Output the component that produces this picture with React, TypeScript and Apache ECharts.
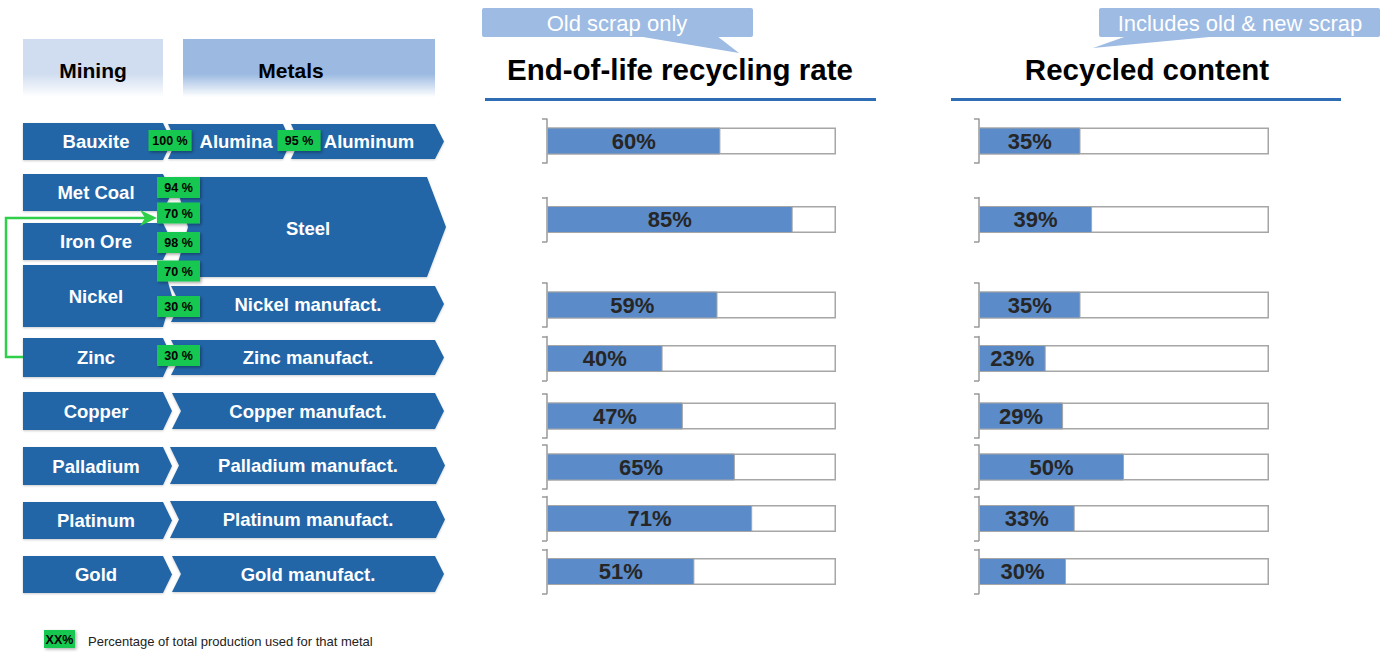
import React, { useEffect, useRef } from 'react';
import * as echarts from 'echarts';

// ---------- data ----------
const metals = ['Aluminum', 'Steel', 'Nickel', 'Zinc', 'Copper', 'Palladium', 'Platinum', 'Gold'];
const endOfLifeRate = [60, 85, 59, 40, 47, 65, 71, 51];
const recycledContent = [35, 39, 35, 23, 29, 50, 33, 30];
const miningLabels = ['Bauxite', 'Met Coal', 'Iron Ore', 'Nickel', 'Zinc', 'Copper', 'Palladium', 'Platinum', 'Gold'];
const metalLabels = [
  'Alumina', 'Aluminum', 'Steel', 'Nickel manufact.', 'Zinc manufact.',
  'Copper manufact.', 'Palladium manufact.', 'Platinum manufact.', 'Gold manufact.',
];
const usageShares = ['100 %', '95 %', '94 %', '70 %', '98 %', '70 %', '30 %', '30 %'];
const headerLabels = ['Mining', 'Metals'];
const panelTitles = ['End-of-life recycling rate', 'Recycled content'];
const panelNotes = ['Old scrap only', 'Includes old & new scrap'];
const legendSample = 'XX%';
const legendText = 'Percentage of total production used for that metal';

// ---------- layout / style ----------
const FONT = '"Liberation Sans", Arial, Helvetica, sans-serif';
const BLUE = '#2466a8';
const GREEN = '#17c84f';
const ARROW_GREEN = '#2fcf4a';
const BAR_BLUE = '#5b8bc9';
const BAR_BORDER = '#a6a6a6';
const CALLOUT = '#9dbbe3';

const rowCenters = [141, 219.5, 305, 358.5, 416, 467, 518.5, 571.5];
const panelLayout = [
  { left: 547, width: 289 },
  { left: 979, width: 290 },
];
const panelValues = [endOfLifeRate, recycledContent];

const miningRows: [number, number][] = [
  [123, 160], [174, 211], [223, 260], [265, 327], [338, 377],
  [392, 430], [447, 485], [502, 539], [556, 593],
];
const metalShapes = [
  { x0: 168, x1: 291, t: 124, b: 159, tip: 8, notch: 8, tx: 236 },
  { x0: 291, x1: 444, t: 124, b: 159, tip: 9, notch: 8, tx: 369 },
  { x0: 174, x1: 446, t: 177, b: 277, tip: 19, notch: 14, tx: 308 },
  { x0: 171, x1: 444, t: 286, b: 322, tip: 9, notch: 9, tx: 308 },
  { x0: 171, x1: 444, t: 340, b: 375, tip: 9, notch: 9, tx: 308 },
  { x0: 172, x1: 444, t: 393, b: 429, tip: 9, notch: 9, tx: 308 },
  { x0: 170, x1: 445, t: 447, b: 484, tip: 9, notch: 9, tx: 308 },
  { x0: 170, x1: 445, t: 501, b: 538, tip: 9, notch: 9, tx: 308 },
  { x0: 172, x1: 444, t: 556, b: 592, tip: 9, notch: 9, tx: 308 },
];
const badgeCenters: [number, number][] = [
  [170, 140.5], [299, 140.5], [178.5, 187.5], [178.5, 213],
  [178.5, 242.5], [178.5, 271], [178.5, 306.5], [178.5, 355.5],
];

function chevron(x0: number, x1: number, t: number, b: number, tip: number, notch: number) {
  const c = (t + b) / 2;
  return [[x0, t], [x1 - tip, t], [x1, c], [x1 - tip, b], [x0, b], [x0 + notch, c]];
}
function pentagon(x0: number, x1: number, t: number, b: number, tip: number) {
  const c = (t + b) / 2;
  return [[x0, t], [x1 - tip, t], [x1, c], [x1 - tip, b], [x0, b]];
}

function centered(text: string, x: number, y: number, extra: any) {
  return {
    type: 'text',
    x,
    y,
    style: {
      text, fontFamily: FONT,
      align: 'center', verticalAlign: 'middle', textAlign: 'center', textVerticalAlign: 'middle',
      ...extra,
    },
  };
}

function buildGraphics(): any[] {
  const els: any[] = [];
  // header boxes
  const headerBoxes = [
    { x: 23, w: 140, top: '#d0ddf0', tx: 93 },
    { x: 183, w: 252, top: '#9bb9e1', tx: 291 },
  ];
  headerBoxes.forEach((h, i) => {
    els.push({
      type: 'rect',
      shape: { x: h.x, y: 39, width: h.w, height: 58 },
      style: {
        fill: new echarts.graphic.LinearGradient(0, 0, 0, 1, [
          { offset: 0, color: h.top },
          { offset: 0.6, color: h.top },
          { offset: 1, color: '#ffffff' },
        ]),
      },
    });
    els.push(centered(headerLabels[i], h.tx, 70, { fill: '#000', fontSize: 21, fontWeight: 'bold' }));
  });

  // mining shapes
  miningRows.forEach(([t, b], i) => {
    els.push({
      type: 'polygon',
      shape: { points: pentagon(23, 172, t, b, 9) },
      style: { fill: BLUE, shadowBlur: 2, shadowColor: 'rgba(0,0,0,0.2)', shadowOffsetY: 1 },
    });
    els.push(centered(miningLabels[i], 96, (t + b) / 2, { fill: '#fff', fontSize: 18.5, fontWeight: 'bold' }));
  });

  // metal shapes
  metalShapes.forEach((s, i) => {
    els.push({
      type: 'polygon',
      shape: { points: chevron(s.x0, s.x1, s.t, s.b, s.tip, s.notch) },
      style: { fill: BLUE, shadowBlur: 2, shadowColor: 'rgba(0,0,0,0.2)', shadowOffsetY: 1 },
    });
    els.push(centered(metalLabels[i], s.tx, (s.t + s.b) / 2 + (i === 2 ? 1 : 0), {
      fill: '#fff', fontSize: 18.5, fontWeight: 'bold',
    }));
  });

  // green arrow from Zinc to Steel
  els.push({
    type: 'polyline',
    shape: { points: [[23, 357], [6, 357], [6, 218], [146, 218]] },
    style: { stroke: ARROW_GREEN, lineWidth: 2.5, fill: 'none' },
  });
  els.push({
    type: 'polygon',
    shape: { points: [[140, 210], [157, 218], [140, 226], [145, 218]] },
    style: { fill: ARROW_GREEN },
  });

  // green usage badges
  usageShares.forEach((txt, i) => {
    const [cx, cy] = badgeCenters[i];
    els.push({
      type: 'rect',
      shape: { x: cx - 21.5, y: cy - 10.5, width: 43, height: 21 },
      style: { fill: GREEN, shadowBlur: 3, shadowColor: 'rgba(0,0,0,0.35)', shadowOffsetX: 1.5, shadowOffsetY: 1.5 },
    });
    els.push(centered(txt, cx, cy + 0.5, { fill: '#000', fontSize: 12.5, fontWeight: 'bold' }));
  });

  // legend
  els.push({
    type: 'rect',
    shape: { x: 44, y: 630, width: 31, height: 18 },
    style: { fill: GREEN, shadowBlur: 3, shadowColor: 'rgba(0,0,0,0.3)', shadowOffsetX: 1.5, shadowOffsetY: 1.5 },
  });
  els.push(centered(legendSample, 59.5, 639.5, { fill: '#000', fontSize: 12.5, fontWeight: 'bold' }));
  els.push({
    type: 'text',
    x: 88,
    y: 641,
    style: {
      text: legendText, fill: '#222', fontSize: 13, fontFamily: FONT,
      align: 'left', verticalAlign: 'middle', textAlign: 'left', textVerticalAlign: 'middle',
    },
  });

  // panel titles, underlines, callouts
  const titleLayout = [
    { cx: 680, x0: 485, x1: 876 },
    { cx: 1147, x0: 951, x1: 1341 },
  ];
  titleLayout.forEach((p, i) => {
    els.push(centered(panelTitles[i], p.cx, 69, { fill: '#000', fontSize: 29.5, fontWeight: 'bold' }));
    els.push({
      type: 'line',
      shape: { x1: p.x0, y1: 99.5, x2: p.x1, y2: 99.5 },
      style: { stroke: '#2e6db3', lineWidth: 3 },
    });
  });

  const callouts = [
    { x: 482, w: 271, tx: 617, tail: [[637, 36], [717, 36], [739, 53]] },
    { x: 1099, w: 281, tx: 1240, tail: [[1127, 36], [1220, 36], [1093, 48]] },
  ];
  callouts.forEach((c, i) => {
    els.push({
      type: 'polygon',
      shape: { points: c.tail },
      style: { fill: CALLOUT },
    });
    els.push({
      type: 'rect',
      shape: { x: c.x, y: 8, width: c.w, height: 29, r: 2 },
      style: { fill: CALLOUT },
    });
    els.push(centered(panelNotes[i], c.tx, 23, { fill: '#fff', fontSize: 22 }));
  });

  return els;
}

function buildOption(): any {
  const grid: any[] = [];
  const xAxis: any[] = [];
  const yAxis: any[] = [];
  const series: any[] = [];
  panelLayout.forEach((p, pi) => {
    metals.forEach((m, ri) => {
      const idx = grid.length;
      grid.push({ left: p.left, width: p.width, top: rowCenters[ri] - 22, height: 44, containLabel: false });
      xAxis.push({ gridIndex: idx, type: 'value', min: 0, max: 100, show: false });
      yAxis.push({
        gridIndex: idx,
        type: 'category',
        data: [m],
        axisLine: { show: true, lineStyle: { color: '#9a9a9a', width: 1.5 } },
        axisTick: { show: true, length: 5, lineStyle: { color: '#9a9a9a', width: 1.5 } },
        axisLabel: { show: false },
        splitLine: { show: false },
      });
      series.push({
        type: 'bar',
        xAxisIndex: idx,
        yAxisIndex: idx,
        data: [100],
        barWidth: 27,
        barGap: '-100%',
        silent: true,
        itemStyle: { color: '#ffffff', borderColor: BAR_BORDER, borderWidth: 1.5 },
        z: 1,
      });
      series.push({
        type: 'bar',
        xAxisIndex: idx,
        yAxisIndex: idx,
        data: [panelValues[pi][ri]],
        barWidth: 27,
        barGap: '-100%',
        itemStyle: { color: BAR_BLUE, borderColor: BAR_BORDER, borderWidth: 1 },
        label: {
          show: true,
          position: 'inside',
          formatter: '{c}%',
          fontSize: 22,
          fontWeight: 'bold',
          fontFamily: FONT,
          color: '#262626',
        },
        z: 2,
      });
    });
  });
  return {
    animation: false,
    backgroundColor: '#ffffff',
    grid,
    xAxis,
    yAxis,
    series,
    graphic: { elements: buildGraphics() },
  };
}

export default function App() {
  const ref = useRef<HTMLDivElement>(null);
  useEffect(() => {
    if (!ref.current) return;
    const chart = echarts.init(ref.current, undefined, { renderer: 'svg' });
    chart.setOption(buildOption());
    return () => chart.dispose();
  }, []);
  return (
    <div
      ref={ref}
      style={{ position: 'absolute', left: 0, top: 0, width: 1387, height: 652, background: '#fff' }}
    />
  );
}
